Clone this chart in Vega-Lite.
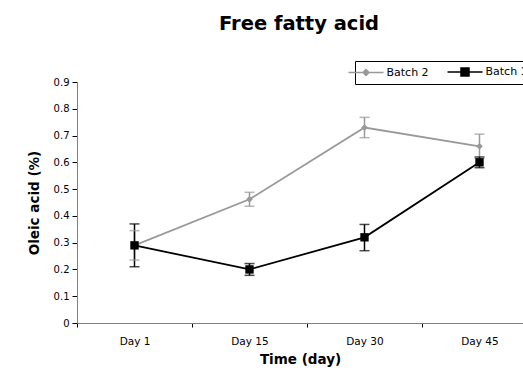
{
  "$schema": "https://vega.github.io/schema/vega-lite/v6.json",
  "autosize": {"type": "none"},
  "padding": {"left": 77, "top": 82, "right": 0, "bottom": 51},
  "width": 446,
  "height": 241,
  "background": "white",
  "config": {
    "view": {"stroke": null},
    "font": "DejaVu Sans",
    "axis": {"grid": false, "labelFont": "DejaVu Sans", "titleFont": "DejaVu Sans", "labelColor": "#000", "titleColor": "#000", "domainColor": "#808080", "tickColor": "#000", "labelFontSize": 10, "titleFontSize": 13.5, "titleFontWeight": "bold"}
  },
  "title": {"text": "Free fatty acid", "fontSize": 19.5, "fontWeight": "bold", "font": "DejaVu Sans", "anchor": "middle", "offset": 26, "dx": -1, "color": "#000"},
  "data": {"values": [
    {"day": "Day 1", "batch": "Batch 2", "mean": 0.29, "lo": 0.235, "hi": 0.345},
    {"day": "Day 15", "batch": "Batch 2", "mean": 0.462, "lo": 0.436, "hi": 0.488},
    {"day": "Day 30", "batch": "Batch 2", "mean": 0.73, "lo": 0.692, "hi": 0.768},
    {"day": "Day 45", "batch": "Batch 2", "mean": 0.66, "lo": 0.615, "hi": 0.705},
    {"day": "Day 1", "batch": "Batch 1", "mean": 0.29, "lo": 0.21, "hi": 0.37},
    {"day": "Day 15", "batch": "Batch 1", "mean": 0.2, "lo": 0.178, "hi": 0.222},
    {"day": "Day 30", "batch": "Batch 1", "mean": 0.32, "lo": 0.27, "hi": 0.368},
    {"day": "Day 45", "batch": "Batch 1", "mean": 0.6, "lo": 0.58, "hi": 0.62}
  ]},
  "encoding": {
    "x": {"field": "day", "type": "nominal", "sort": ["Day 1", "Day 15", "Day 30", "Day 45"],
      "scale": {"paddingInner": 0, "paddingOuter": 0, "range": [0, 460]},
      "axis": {"title": "Time (day)", "labelAngle": 0, "labelFontSize": 10.5, "tickBand": "extent", "tickSize": 4, "labelPadding": 9, "titlePadding": 6, "titleX": 223}},
    "color": {"field": "batch", "type": "nominal", "sort": ["Batch 2", "Batch 1"],
      "scale": {"domain": ["Batch 2", "Batch 1"], "range": ["#999999", "#000000"]},
      "legend": {
        "title": null, "orient": "none", "direction": "horizontal", "legendX": 278, "legendY": -21,
        "strokeColor": "#000", "padding": 5, "fillColor": "white",
        "labelFont": "DejaVu Sans", "labelFontSize": 11, "labelColor": "#000",
        "symbolSize": 100, "labelOffset": 14.5, "columnPadding": 15, "symbolStrokeWidth": 1.5,
        "encode": {"symbols": {"update": {
          "shape": {"signal": "datum.value === 'Batch 2' ? 'M-3.5,0H3.5M0,-0.6L0.6,0L0,0.6L-0.6,0Z' : 'M-3.5,0H3.5M-0.8,-0.8H0.8V0.8H-0.8Z'"},
          "stroke": {"scale": "color", "field": "value"},
          "fill": {"scale": "color", "field": "value"},
          "strokeWidth": {"value": 1.5},
          "size": {"value": 100},
          "opacity": {"value": 1}
        }}}
      }}
  },
  "layer": [
    {
      "mark": {"type": "line", "strokeWidth": 1.8},
      "encoding": {
        "y": {"field": "mean", "type": "quantitative", "scale": {"domain": [0, 0.9]},
          "axis": {"title": "Oleic acid (%)", "values": [0, 0.1, 0.2, 0.3, 0.4, 0.5, 0.6, 0.7, 0.8, 0.9], "format": "~g", "labelOverlap": false, "tickSize": 5, "labelPadding": 3, "titlePadding": 12}},
        "detail": {"field": "batch"}
      }
    },
    {
      "mark": {"type": "rule", "strokeWidth": 1.5},
      "encoding": {
        "y": {"field": "lo", "type": "quantitative", "scale": {"domain": [0, 0.9]},
          "axis": {"title": "Oleic acid (%)", "values": [0, 0.1, 0.2, 0.3, 0.4, 0.5, 0.6, 0.7, 0.8, 0.9], "format": "~g", "labelOverlap": false, "tickSize": 5, "labelPadding": 3, "titlePadding": 12}},
        "y2": {"field": "hi"}
      }
    },
    {
      "mark": {"type": "tick", "thickness": 1.5, "size": 10, "orient": "horizontal"},
      "encoding": {
        "y": {"field": "lo", "type": "quantitative", "scale": {"domain": [0, 0.9]},
          "axis": {"title": "Oleic acid (%)", "values": [0, 0.1, 0.2, 0.3, 0.4, 0.5, 0.6, 0.7, 0.8, 0.9], "format": "~g", "labelOverlap": false, "tickSize": 5, "labelPadding": 3, "titlePadding": 12}}
      }
    },
    {
      "mark": {"type": "tick", "thickness": 1.5, "size": 10, "orient": "horizontal"},
      "encoding": {
        "y": {"field": "hi", "type": "quantitative", "scale": {"domain": [0, 0.9]},
          "axis": {"title": "Oleic acid (%)", "values": [0, 0.1, 0.2, 0.3, 0.4, 0.5, 0.6, 0.7, 0.8, 0.9], "format": "~g", "labelOverlap": false, "tickSize": 5, "labelPadding": 3, "titlePadding": 12}}
      }
    },
    {
      "transform": [{"filter": "datum.batch === 'Batch 2'"}],
      "mark": {"type": "point", "filled": true, "opacity": 1, "shape": "diamond", "size": 45},
      "encoding": {
        "y": {"field": "mean", "type": "quantitative", "scale": {"domain": [0, 0.9]},
          "axis": {"title": "Oleic acid (%)", "values": [0, 0.1, 0.2, 0.3, 0.4, 0.5, 0.6, 0.7, 0.8, 0.9], "format": "~g", "labelOverlap": false, "tickSize": 5, "labelPadding": 3, "titlePadding": 12}}
      }
    },
    {
      "transform": [{"filter": "datum.batch === 'Batch 1'"}],
      "mark": {"type": "point", "filled": true, "opacity": 1, "shape": "square", "size": 70},
      "encoding": {
        "y": {"field": "mean", "type": "quantitative", "scale": {"domain": [0, 0.9]},
          "axis": {"title": "Oleic acid (%)", "values": [0, 0.1, 0.2, 0.3, 0.4, 0.5, 0.6, 0.7, 0.8, 0.9], "format": "~g", "labelOverlap": false, "tickSize": 5, "labelPadding": 3, "titlePadding": 12}}
      }
    }
  ]
}
